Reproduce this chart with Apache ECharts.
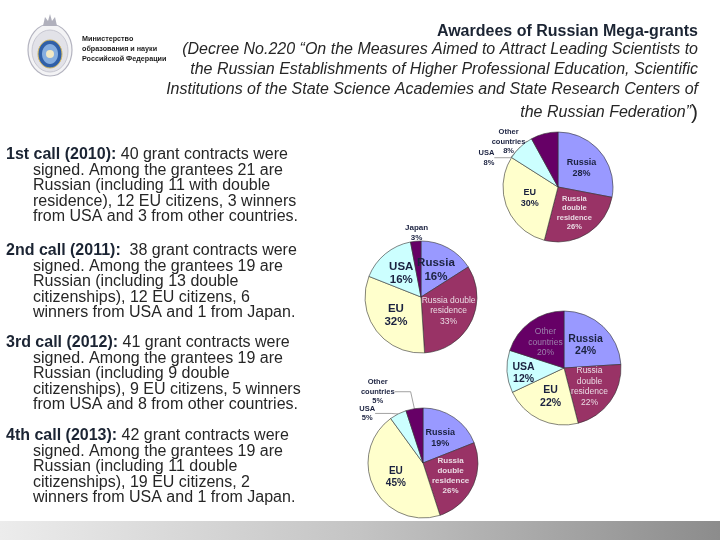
<!DOCTYPE html>
<html><head><meta charset="utf-8">
<script src="https://cdn.jsdelivr.net/npm/echarts@6/dist/echarts.min.js"></script>
<style>html,body{margin:0;padding:0;background:#fff}#c{width:720px;height:540px}</style>
</head><body><div id="c"></div>
<script>
// ---- data ----
const categories2010 = ['Russia', 'Russia double residence', 'EU', 'USA', 'Other countries'];
const categories2011 = ['Russia', 'Russia double residence', 'EU', 'USA', 'Japan'];
const categories2012 = ['Russia', 'Russia double residence', 'EU', 'USA', 'Other countries'];
const categories2013 = ['Russia', 'Russia double residence', 'EU', 'USA', 'Other countries'];
const values2010 = [28, 26, 30, 8, 8];
const values2011 = [16, 33, 32, 16, 3];
const values2012 = [24, 22, 22, 12, 20];
const values2013 = [19, 26, 45, 5, 5];

const titleText = 'Awardees of Russian Mega-grants';
const subtitleLines = [
  '(Decree No.220 \u201cOn the Measures Aimed to Attract Leading Scientists to',
  'the Russian Establishments of Higher Professional Education, Scientific',
  'Institutions of the State Science Academies and State Research Centers of',
  'the Russian Federation\u201d'
];
const callHeads = ['1st call (2010):', '2nd call (2011):', '3rd call (2012):', '4th call (2013):'];
const callLines = [
  [' 40 grant contracts were', 'signed. Among the grantees 21 are', 'Russian (including 11 with double', 'residence), 12 EU citizens, 3 winners', 'from USA and 3 from other countries.'],
  ['  38 grant contracts were', 'signed. Among the grantees 19 are', 'Russian (including 13 double', 'citizenships), 12 EU citizens, 6', 'winners from USA and 1 from Japan.'],
  [' 41 grant contracts were', 'signed. Among the grantees 19 are', 'Russian (including 9 double', 'citizenships), 9 EU citizens, 5 winners', 'from USA and 8 from other countries.'],
  [' 42 grant contracts were', 'signed. Among the grantees 19 are', 'Russian (including 11 double', 'citizenships), 19 EU citizens, 2', 'winners from USA and 1 from Japan.']
];
const ministryLines = ['Министерство', 'образования и науки', 'Российской Федерации'];

// ---- styles ----
const sliceColors = ['#9999FF', '#993366', '#FFFFCC', '#CCFFFF', '#660066'];
const labelColors = ['#1b2240', '#eadbe4', '#1b2240', '#1b2240', '#9c80ac'];
const F = 'Liberation Sans, Arial, sans-serif';

function makeData(cats, vals, cfg) {
  return cats.map((c, i) => {
    const outside = cfg.outside.indexOf(i) >= 0;
    const fs = outside ? cfg.outFont : (cfg.fonts[i] || cfg.font);
    return {
      name: c, value: vals[i],
      itemStyle: { color: sliceColors[i] },
      label: {
        formatter: (cfg.names[i] || c) + '\n' + vals[i] + '%',
        color: outside ? '#1b2240' : labelColors[i],
        fontSize: fs,
        fontWeight: (cfg.normalIdx || []).indexOf(i) >= 0 ? 'normal' : 'bold',
        fontFamily: F,
        lineHeight: fs + 2,
        position: outside ? 'outside' : 'inside'
      },
      labelLine: { show: outside && !(cfg.noLine || []).includes(i), length: cfg.len || 4, length2: cfg.len2 || 14,
        lineStyle: { color: '#8a8a8a', width: 0.8 } }
    };
  });
}

// shifts: label offsets relative to the position the library computed
function pie(center, radius, data, shifts) {
  return {
    type: 'pie', center: center, radius: radius, startAngle: 90, clockwise: true,
    avoidLabelOverlap: false, animation: false, silent: true,
    itemStyle: { borderColor: '#333', borderWidth: 0.6 },
    label: { show: true },
    labelLayout: function (p) {
      const s = shifts[p.dataIndex];
      if (!s) return { hideOverlap: false };
      const r = p.labelRect;
      return {
        hideOverlap: false,
        align: s.align || 'right',
        verticalAlign: 'middle',
        x: r.x + (s.inside ? r.width / 2 : r.width) + s.dx,
        y: r.y + r.height / 2 + s.dy
      };
    },
    data: data
  };
}

const series = [
  pie([558, 187], 55, makeData(categories2010, values2010, {
    names: ['Russia', 'Russia\ndouble\nresidence', 'EU', 'USA', 'Other\ncountries'],
    outside: [3, 4], font: 8.5, fonts: [9, 7.5, 9], outFont: 7.5, len: 3, len2: 16
  }), { 3: { dx: -3, dy: 13 }, 4: { align: 'center', dx: -14, dy: 11 } }),
  pie([421, 297], 56, makeData(categories2011, values2011, {
    names: ['Russia', 'Russia double\nresidence', 'EU', 'USA', 'Japan'],
    outside: [4], noLine: [4], font: 11.5, fonts: [11.5, 8.5, 11.5, 11.5], outFont: 8, normalIdx: [1], len: 2, len2: 2
  }), { 4: { align: 'center', dx: 8, dy: -6 } }),
  pie([564, 368], 57, makeData(categories2012, values2012, {
    names: ['Russia', 'Russia\ndouble\nresidence', 'EU', 'USA', 'Other\ncountries'],
    outside: [], font: 10.5, fonts: [10.5, 8.5, 10.5, 10.5, 8.5], outFont: 8, normalIdx: [1, 4]
  }), { 3: { inside: true, align: 'center', dx: -9, dy: 3 } }),
  pie([423, 463], 55, makeData(categories2013, values2013, {
    names: ['Russia', 'Russia\ndouble\nresidence', 'EU', 'USA', 'Other\ncountries'],
    outside: [3, 4], font: 9, fonts: [9, 8, 10, 9], outFont: 7.5, len: 4, len2: 16
  }), { 3: { align: 'center', dx: -8, dy: 3 }, 4: { align: 'center', dx: -15, dy: -13 } })
];

// ---- graphics (text, logo, band) ----
const graphic = [];
graphic.push({ type: 'rect', shape: { x: 0, y: 521, width: 720, height: 19 }, silent: true, style: {
  fill: new echarts.graphic.LinearGradient(0, 0, 1, 0, [
    { offset: 0, color: '#ececec' }, { offset: 0.5, color: '#c4c4c4' }, { offset: 1, color: '#8c8c8c' }]) } });
// emblem
graphic.push({ type: 'ellipse', shape: { cx: 50, cy: 50, rx: 22, ry: 26 }, style: { fill: '#f3f3f5', stroke: '#b4b4c0', lineWidth: 1.2 }, silent: true });
graphic.push({ type: 'ellipse', shape: { cx: 50, cy: 51, rx: 18, ry: 21 }, style: { fill: '#e2e2e8', stroke: '#c8c8d2', lineWidth: 1 }, silent: true });
graphic.push({ type: 'polygon', shape: { points: [[43, 26], [45, 17], [48, 21], [50, 14], [52, 21], [55, 17], [57, 26]] }, style: { fill: '#b0b0bc' }, silent: true });
graphic.push({ type: 'ellipse', shape: { cx: 50, cy: 54, rx: 12, ry: 14 }, style: { fill: '#2f5fa8', stroke: '#d4b860', lineWidth: 1 }, silent: true });
graphic.push({ type: 'ellipse', shape: { cx: 50, cy: 54, rx: 8, ry: 10 }, style: { fill: '#86aee0' }, silent: true });
graphic.push({ type: 'circle', shape: { cx: 50, cy: 54, r: 4 }, style: { fill: '#f2e8c4' }, silent: true });
ministryLines.forEach((t, i) => graphic.push({ type: 'text', x: 82, y: 39 + i * 10, silent: true,
  style: { text: t, font: 'bold 7.2px ' + F, fill: '#1a1a1a', textVerticalAlign: 'middle' } }));
// title
graphic.push({ type: 'text', x: 698, y: 32, silent: true, style: { text: titleText, font: 'bold 16px ' + F, fill: '#1b2433', textAlign: 'right', textVerticalAlign: 'middle' } });
[50, 70, 90].forEach((y, i) => graphic.push({ type: 'text', x: 698, y: y, silent: true,
  style: { text: subtitleLines[i], font: 'italic 16px ' + F, fill: '#262626', textAlign: 'right', textVerticalAlign: 'middle' } }));
graphic.push({ type: 'text', x: 698, y: 113, silent: true, style: {
  text: '{a|' + subtitleLines[3] + '}{b|)}', textAlign: 'right', textVerticalAlign: 'middle',
  rich: { a: { font: 'italic 16px ' + F, fill: '#262626' }, b: { font: '21px ' + F, fill: '#262626' } } } });
// left call texts
const blockTops = [155, 251, 343, 436];
blockTops.forEach((y0, b) => {
  callLines[b].forEach((t, i) => {
    const y = y0 + i * 15.5;
    if (i === 0) {
      graphic.push({ type: 'text', x: 6, y: y, silent: true, style: {
        text: '{h|' + callHeads[b] + '}{n|' + t + '}', textVerticalAlign: 'middle',
        rich: { h: { font: 'bold 16px ' + F, fill: '#1b2433' }, n: { font: '16px ' + F, fill: '#262626' } } } });
    } else {
      graphic.push({ type: 'text', x: 33, y: y, silent: true, style: { text: t, font: '16px ' + F, fill: '#262626', textVerticalAlign: 'middle' } });
    }
  });
});

const chart = echarts.init(document.getElementById('c'), null, { renderer: 'canvas' });
chart.setOption({ animation: false, backgroundColor: '#fff', series: series, graphic: graphic });
</script></body></html>
